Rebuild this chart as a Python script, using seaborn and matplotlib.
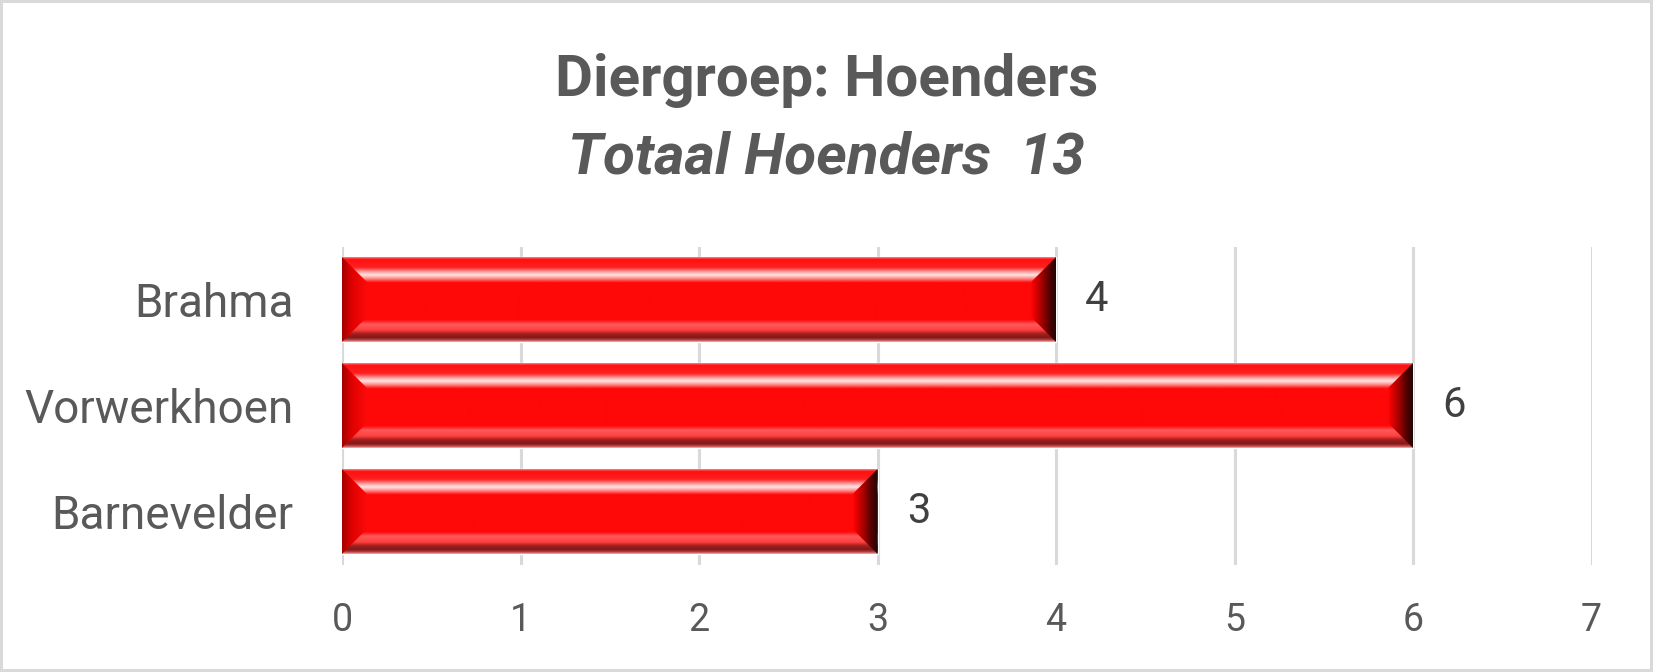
import numpy as np
import matplotlib
matplotlib.use("Agg")
import matplotlib.pyplot as plt
from matplotlib.colors import LinearSegmentedColormap
from matplotlib.patches import Polygon, Rectangle
import seaborn as sns
import pandas as pd

categories = ["Brahma", "Vorwerkhoen", "Barnevelder"]
values = [4, 6, 3]
x_ticks = [0, 1, 2, 3, 4, 5, 6, 7]
title = "Diergroep: Hoenders"
subtitle = "Totaal Hoenders  13"

sns.set_theme(style="white")
plt.rcParams['font.family'] = ['Roboto', 'DejaVu Sans']

W, H, DPI = 1653, 672, 100
fig = plt.figure(figsize=(W / DPI, H / DPI), dpi=DPI)
ax = fig.add_axes([342 / W, 1 - 564.5 / H, (1591.5 - 342) / W, (564.5 - 246.5) / H])

df = pd.DataFrame({"cat": categories, "val": values})
sns.barplot(data=df, x="val", y="cat", orient="h", color="#ff0808",
            width=0.8, saturation=1, ax=ax, zorder=2)

ax.set_xlim(0, 7)
ax.set_ylim(2.5, -0.5)
ax.set_xticks(x_ticks)
ax.set_xlabel("")
ax.set_ylabel("")
for s in ax.spines.values():
    s.set_visible(False)
ax.grid(axis="x", color="#d9d9d9", linewidth=2.2, zorder=0)
ax.grid(axis="y", visible=False)
ax.set_axisbelow(True)
ax.tick_params(axis="x", length=0, pad=27, labelsize=27, labelcolor="#595959")
ax.tick_params(axis="y", length=0, pad=35, labelsize=33, labelcolor="#595959")

# vertical shading profile of the bevelled bar
vprof = [(0.00, "#ff8080"), (0.025, "#ff1010"), (0.12, "#ff2020"), (0.17, "#ff9a9a"),
         (0.21, "#ffe4e4"), (0.25, "#ff9090"), (0.30, "#ff0808"), (0.74, "#ff0808"),
         (0.79, "#ff5a5a"), (0.86, "#ff4040"), (0.90, "#a82020"), (0.95, "#801818"),
         (0.98, "#c04848"), (1.00, "#ffb0b0")]
vcmap = LinearSegmentedColormap.from_list("v", vprof)
lcmap = LinearSegmentedColormap.from_list("l", [(0, "#a00000"), (0.35, "#dc0000"), (1, "#ff0a0a")])
rcmap = LinearSegmentedColormap.from_list(
    "r", [(0, "#ff0808"), (0.15, "#e40000"), (0.45, "#a00000"), (0.75, "#500000"), (1, "#200808")])

# bevel size in pixels -> data units
px = 25
inv = ax.transData.inverted()
p0 = inv.transform(ax.transData.transform((0, 0)))
p1 = inv.transform(ax.transData.transform((0, 0)) + np.array([px, -px]))
dx = abs(p1[0] - p0[0])
dy = abs(p1[1] - p0[1])

vgrad = np.linspace(0, 1, 256).reshape(-1, 1)
hgrad = np.linspace(0, 1, 256).reshape(1, -1)

for bar in list(ax.patches):
    x0, y0, w, h = bar.get_x(), bar.get_y(), bar.get_width(), bar.get_height()
    x1 = x0 + w
    im = ax.imshow(vgrad, cmap=vcmap, extent=(x0, x1, y0 + h, y0), origin="upper",
                   aspect="auto", interpolation="bilinear", zorder=3)
    im.set_clip_path(bar)
    lpoly = Polygon([(x0, y0), (x0 + dx, y0 + dy), (x0 + dx, y0 + h - dy), (x0, y0 + h)],
                    closed=True, facecolor="none", edgecolor="none", transform=ax.transData)
    ax.add_patch(lpoly)
    iml = ax.imshow(hgrad, cmap=lcmap, extent=(x0, x0 + dx, y0 + h, y0), origin="upper",
                    aspect="auto", interpolation="bilinear", zorder=4)
    iml.set_clip_path(lpoly)
    rpoly = Polygon([(x1, y0), (x1 - dx, y0 + dy), (x1 - dx, y0 + h - dy), (x1, y0 + h)],
                    closed=True, facecolor="none", edgecolor="none", transform=ax.transData)
    ax.add_patch(rpoly)
    imr = ax.imshow(hgrad, cmap=rcmap, extent=(x1 - dx, x1, y0 + h, y0), origin="upper",
                    aspect="auto", interpolation="bilinear", zorder=4)
    imr.set_clip_path(rpoly)

ax.set_xlim(0, 7)
ax.set_ylim(2.5, -0.5)

for c in ax.containers:
    ax.bar_label(c, labels=[str(v) for v in values], padding=21, fontsize=30, color="#404040")

fig.text(0.5, 1 - 95.7 / H, title, ha="center", va="baseline", fontsize=42,
         fontweight="bold", color="#595959")
fig.text(0.5, 1 - 173 / H, subtitle, ha="center", va="baseline", fontsize=42,
         fontweight="bold", fontstyle="italic", color="#595959")

fig.patches.append(Rectangle((0, 0), 1, 1, transform=fig.transFigure, fill=False,
                             edgecolor="#d9d9d9", linewidth=4.3, zorder=10))

fig.savefig("out.png", dpi=DPI, facecolor="white")
